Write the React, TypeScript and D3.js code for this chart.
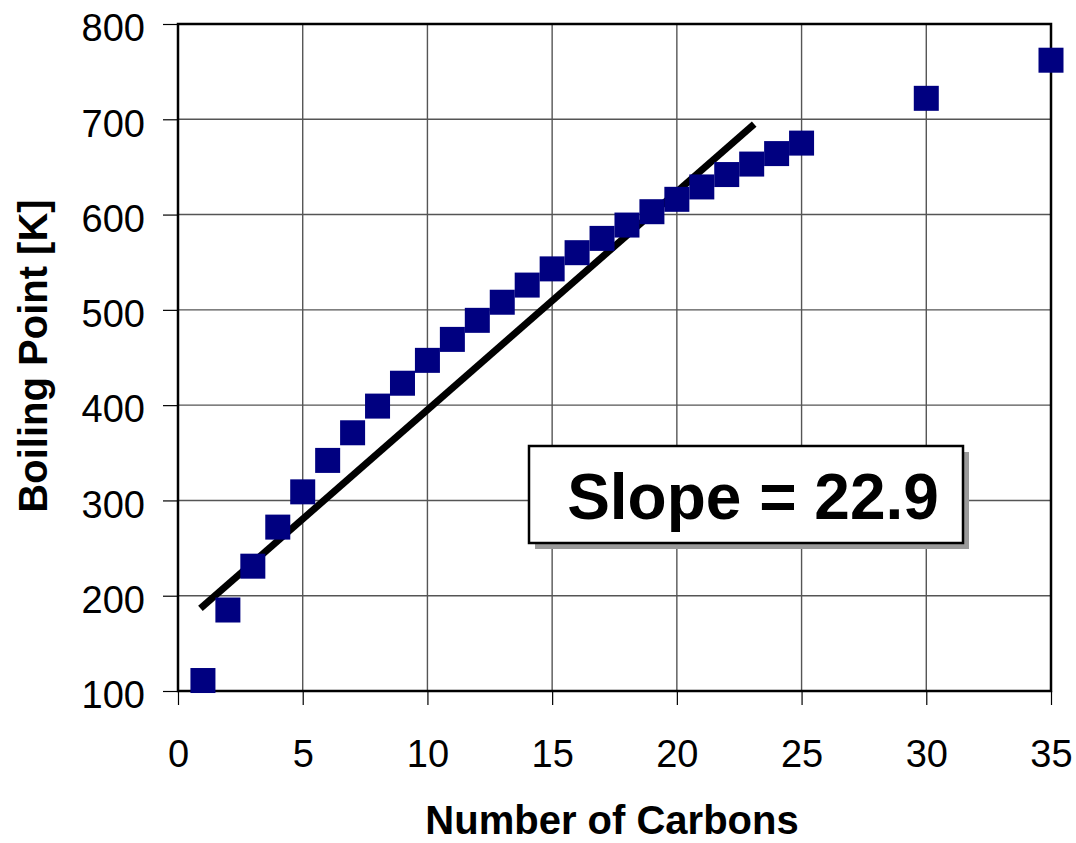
import React, { useEffect, useRef } from 'react';
import * as d3 from 'd3';

// Boiling points of the n-alkanes
const carbons = [1, 2, 3, 4, 5, 6, 7, 8, 9, 10, 11, 12, 13, 14, 15, 16, 17, 18, 19, 20, 21, 22, 23, 24, 25, 30, 35];
const boilingPoints = [111, 185, 231, 272, 309, 342, 371, 399, 423, 447, 469, 489, 508, 526, 543, 560, 575, 589, 603, 616, 629, 642, 653, 664, 675, 722, 762];

// Linear fit drawn on the chart
const fitSlope = 22.9;
const fitIntercept = 166;
const fitRange = [0.9, 23.1];

const xTicks = [0, 5, 10, 15, 20, 25, 30, 35];
const yTicks = [100, 200, 300, 400, 500, 600, 700, 800];

const W = 1076;
const H = 843;
const margin = { top: 24, right: 25, bottom: 152, left: 178 };
const width = W - margin.left - margin.right;
const height = H - margin.top - margin.bottom;

function App() {
    const ref = useRef<SVGSVGElement>(null);

    useEffect(() => {
        const svg = d3.select(ref.current).html('');
        const font = 'Liberation Sans, Arial, sans-serif';

        const x = d3.scaleLinear().domain([0, 35]).range([0, width]);
        const y = d3.scaleLinear().domain([100, 800]).range([height, 0]);

        const g = svg.append('g').attr('transform', `translate(${margin.left},${margin.top})`);

        // Grid lines
        g.selectAll('.vgrid')
            .data(xTicks.slice(1, -1))
            .enter().append('line')
            .attr('x1', (d) => x(d)).attr('x2', (d) => x(d))
            .attr('y1', 0).attr('y2', height)
            .attr('stroke', '#555').attr('stroke-width', 1.4);
        g.selectAll('.hgrid')
            .data(yTicks.slice(1, -1))
            .enter().append('line')
            .attr('x1', 0).attr('x2', width)
            .attr('y1', (d) => y(d)).attr('y2', (d) => y(d))
            .attr('stroke', '#555').attr('stroke-width', 1.4);

        // Axes with outside ticks
        const yAxis = g.append('g')
            .call(d3.axisLeft(y).tickValues(yTicks).tickSize(15).tickPadding(18).tickFormat(d3.format('d')));
        yAxis.select('.domain').remove();
        yAxis.selectAll('line').attr('stroke', '#000').attr('stroke-width', 1.2);
        yAxis.selectAll('text').attr('font-family', font).attr('font-size', 38).attr('fill', '#000').attr('dy', '0.44em');

        const xAxis = g.append('g')
            .attr('transform', `translate(0,${height})`)
            .call(d3.axisBottom(x).tickValues(xTicks).tickSize(14).tickPadding(35).tickFormat(d3.format('d')));
        xAxis.select('.domain').remove();
        xAxis.selectAll('line').attr('stroke', '#000').attr('stroke-width', 1.2);
        xAxis.selectAll('text').attr('font-family', font).attr('font-size', 38).attr('fill', '#000');

        // Plot frame
        g.append('rect')
            .attr('width', width).attr('height', height)
            .attr('fill', 'none').attr('stroke', '#000').attr('stroke-width', 2.5);

        // Fit line
        g.append('line')
            .attr('x1', x(fitRange[0])).attr('y1', y(fitSlope * fitRange[0] + fitIntercept))
            .attr('x2', x(fitRange[1])).attr('y2', y(fitSlope * fitRange[1] + fitIntercept))
            .attr('stroke', '#000').attr('stroke-width', 7);

        // Data markers
        const size = 25;
        g.selectAll('.pt')
            .data(carbons.map((c, i) => ({ c, bp: boilingPoints[i] })))
            .enter().append('rect')
            .attr('x', (d) => x(d.c) - size / 2)
            .attr('y', (d) => y(d.bp) - size / 2)
            .attr('width', size).attr('height', size)
            .attr('fill', '#000080');

        // Slope label box
        const bx = 529 - margin.left, by = 446 - margin.top, bw = 434, bh = 97;
        g.append('rect')
            .attr('x', bx + 6).attr('y', by + 6).attr('width', bw).attr('height', bh)
            .attr('fill', '#9a9a9a');
        g.append('rect')
            .attr('x', bx).attr('y', by).attr('width', bw).attr('height', bh)
            .attr('fill', '#fff').attr('stroke', '#000').attr('stroke-width', 2.5);
        g.append('text')
            .attr('x', bx + bw / 2 + 7).attr('y', by + bh / 2 + 24)
            .attr('text-anchor', 'middle')
            .attr('font-family', font).attr('font-weight', 'bold').attr('font-size', 64)
            .text(`Slope = ${fitSlope}`);

        // Axis titles
        svg.append('text')
            .attr('x', 612).attr('y', 834)
            .attr('text-anchor', 'middle')
            .attr('font-family', font).attr('font-weight', 'bold').attr('font-size', 40)
            .text('Number of Carbons');
        svg.append('text')
            .attr('transform', `translate(47,356) rotate(-90)`)
            .attr('text-anchor', 'middle')
            .attr('font-family', font).attr('font-weight', 'bold').attr('font-size', 40)
            .text('Boiling Point [K]');
    }, []);

    return <svg ref={ref} width={W} height={H} style={{ position: 'absolute', left: 0, top: 0 }}></svg>;
}

export default App;
